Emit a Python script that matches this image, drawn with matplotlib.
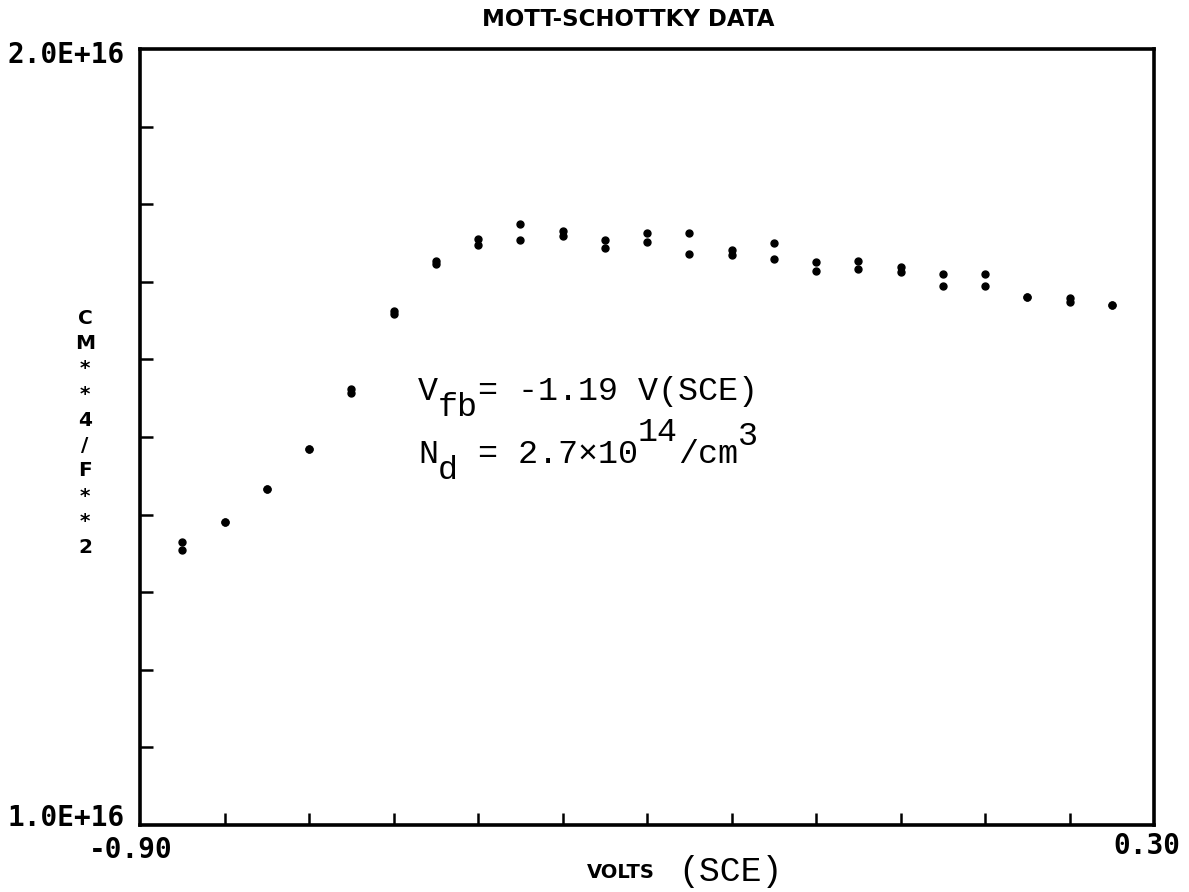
import matplotlib
matplotlib.use('Agg')
import matplotlib.pyplot as plt
import numpy as np

# Mott-Schottky data, two readings per potential (C**-2 in units of 1E+16)
volts = [-0.85, -0.80, -0.75, -0.70, -0.65, -0.60, -0.55, -0.50, -0.45, -0.40, -0.35, -0.30,
         -0.25, -0.20, -0.15, -0.10, -0.05, 0.00, 0.05, 0.10, 0.15, 0.20, 0.25]
cap_a = [1.365, 1.391, 1.433, 1.485, 1.562, 1.662, 1.727, 1.755, 1.774, 1.765, 1.754, 1.763,
         1.763, 1.741, 1.750, 1.725, 1.727, 1.719, 1.710, 1.710, 1.681, 1.679, 1.670]
cap_b = [1.354, 1.391, 1.433, 1.485, 1.557, 1.659, 1.723, 1.747, 1.754, 1.759, 1.743, 1.751,
         1.736, 1.734, 1.729, 1.714, 1.717, 1.713, 1.694, 1.695, 1.681, 1.674, 1.670]

x_ticks = [-0.8, -0.7, -0.6, -0.5, -0.4, -0.3, -0.2, -0.1, 0.0, 0.1, 0.2]
y_ticks = [1.1, 1.2, 1.3, 1.4, 1.5, 1.6, 1.7, 1.8, 1.9]
ylabel_chars = ['C', 'M', '*', '*', '4', '/', 'F', '*', '*', '2']

W, H = 1189, 892
fig = plt.figure(figsize=(W / 100, H / 100), dpi=100)
ax = fig.add_axes([140 / W, 1 - 825 / H, (1154 - 140) / W, (825 - 49) / H])

scale = 1e16
ax.plot(volts, np.array(cap_a) * scale, 'o', color='black', markersize=5, linestyle='none')
ax.plot(volts, np.array(cap_b) * scale, 'o', color='black', markersize=5, linestyle='none')

ax.set_xlim(-0.9, 0.3)
ax.set_ylim(1.0e16, 2.0e16)
ax.set_xticks(x_ticks)
ax.set_yticks(np.array(y_ticks) * scale)
ax.tick_params(direction='in', length=9, width=1.8, labelbottom=False, labelleft=False,
               top=False, right=False)
for s in ax.spines.values():
    s.set_linewidth(2.6)

def px(x, y):
    return x / W, 1 - y / H

mono_bold = dict(family='DejaVu Sans Mono', fontweight='bold', fontsize=20)
fig.text(*px(125, 55), '2.0E+16', ha='right', va='center', **mono_bold)
fig.text(*px(125, 818), '1.0E+16', ha='right', va='center', **mono_bold)
fig.text(*px(131, 850), '-0.90', ha='center', va='center', **mono_bold)
fig.text(*px(1147, 846), '0.30', ha='center', va='center', **mono_bold)

fig.text(*px(628, 19), 'MOTT-SCHOTTKY DATA', ha='center', va='center',
         family='DejaVu Sans', fontweight='heavy', fontsize=16.5)
fig.text(*px(621, 873), 'VOLTS', ha='center', va='center',
         family='DejaVu Sans', fontweight='heavy', fontsize=14)
fig.text(*px(730, 871), '(SCE)', ha='center', va='center',
         family='Liberation Mono', fontsize=25)

for i, ch in enumerate(ylabel_chars):
    fig.text(*px(85, 318 + i * 25.5), ch, ha='center', va='center',
             family='DejaVu Sans', fontweight='heavy', fontsize=14.5)

# typewritten annotation: sub/superscripts are full size, only shifted
typed = dict(family='Liberation Mono', fontsize=24, ha='left', va='baseline')
cw = 20.0  # character width in px
x0 = 418
fig.text(*px(x0, 400), 'V', **typed)
fig.text(*px(x0 + cw, 416), 'fb', **typed)
fig.text(*px(x0 + 3 * cw, 400), '= -1.19 V(SCE)', **typed)

fig.text(*px(x0, 463), 'N', **typed)
fig.text(*px(x0 + cw, 479), 'd', **typed)
fig.text(*px(x0 + 2 * cw, 463), ' = 2.7×10', **typed)
fig.text(*px(x0 + 11 * cw, 441), '14', **typed)
fig.text(*px(x0 + 13 * cw, 463), '/cm', **typed)
fig.text(*px(x0 + 16 * cw, 445), '3', **typed)

fig.savefig('out.png', dpi=100)
